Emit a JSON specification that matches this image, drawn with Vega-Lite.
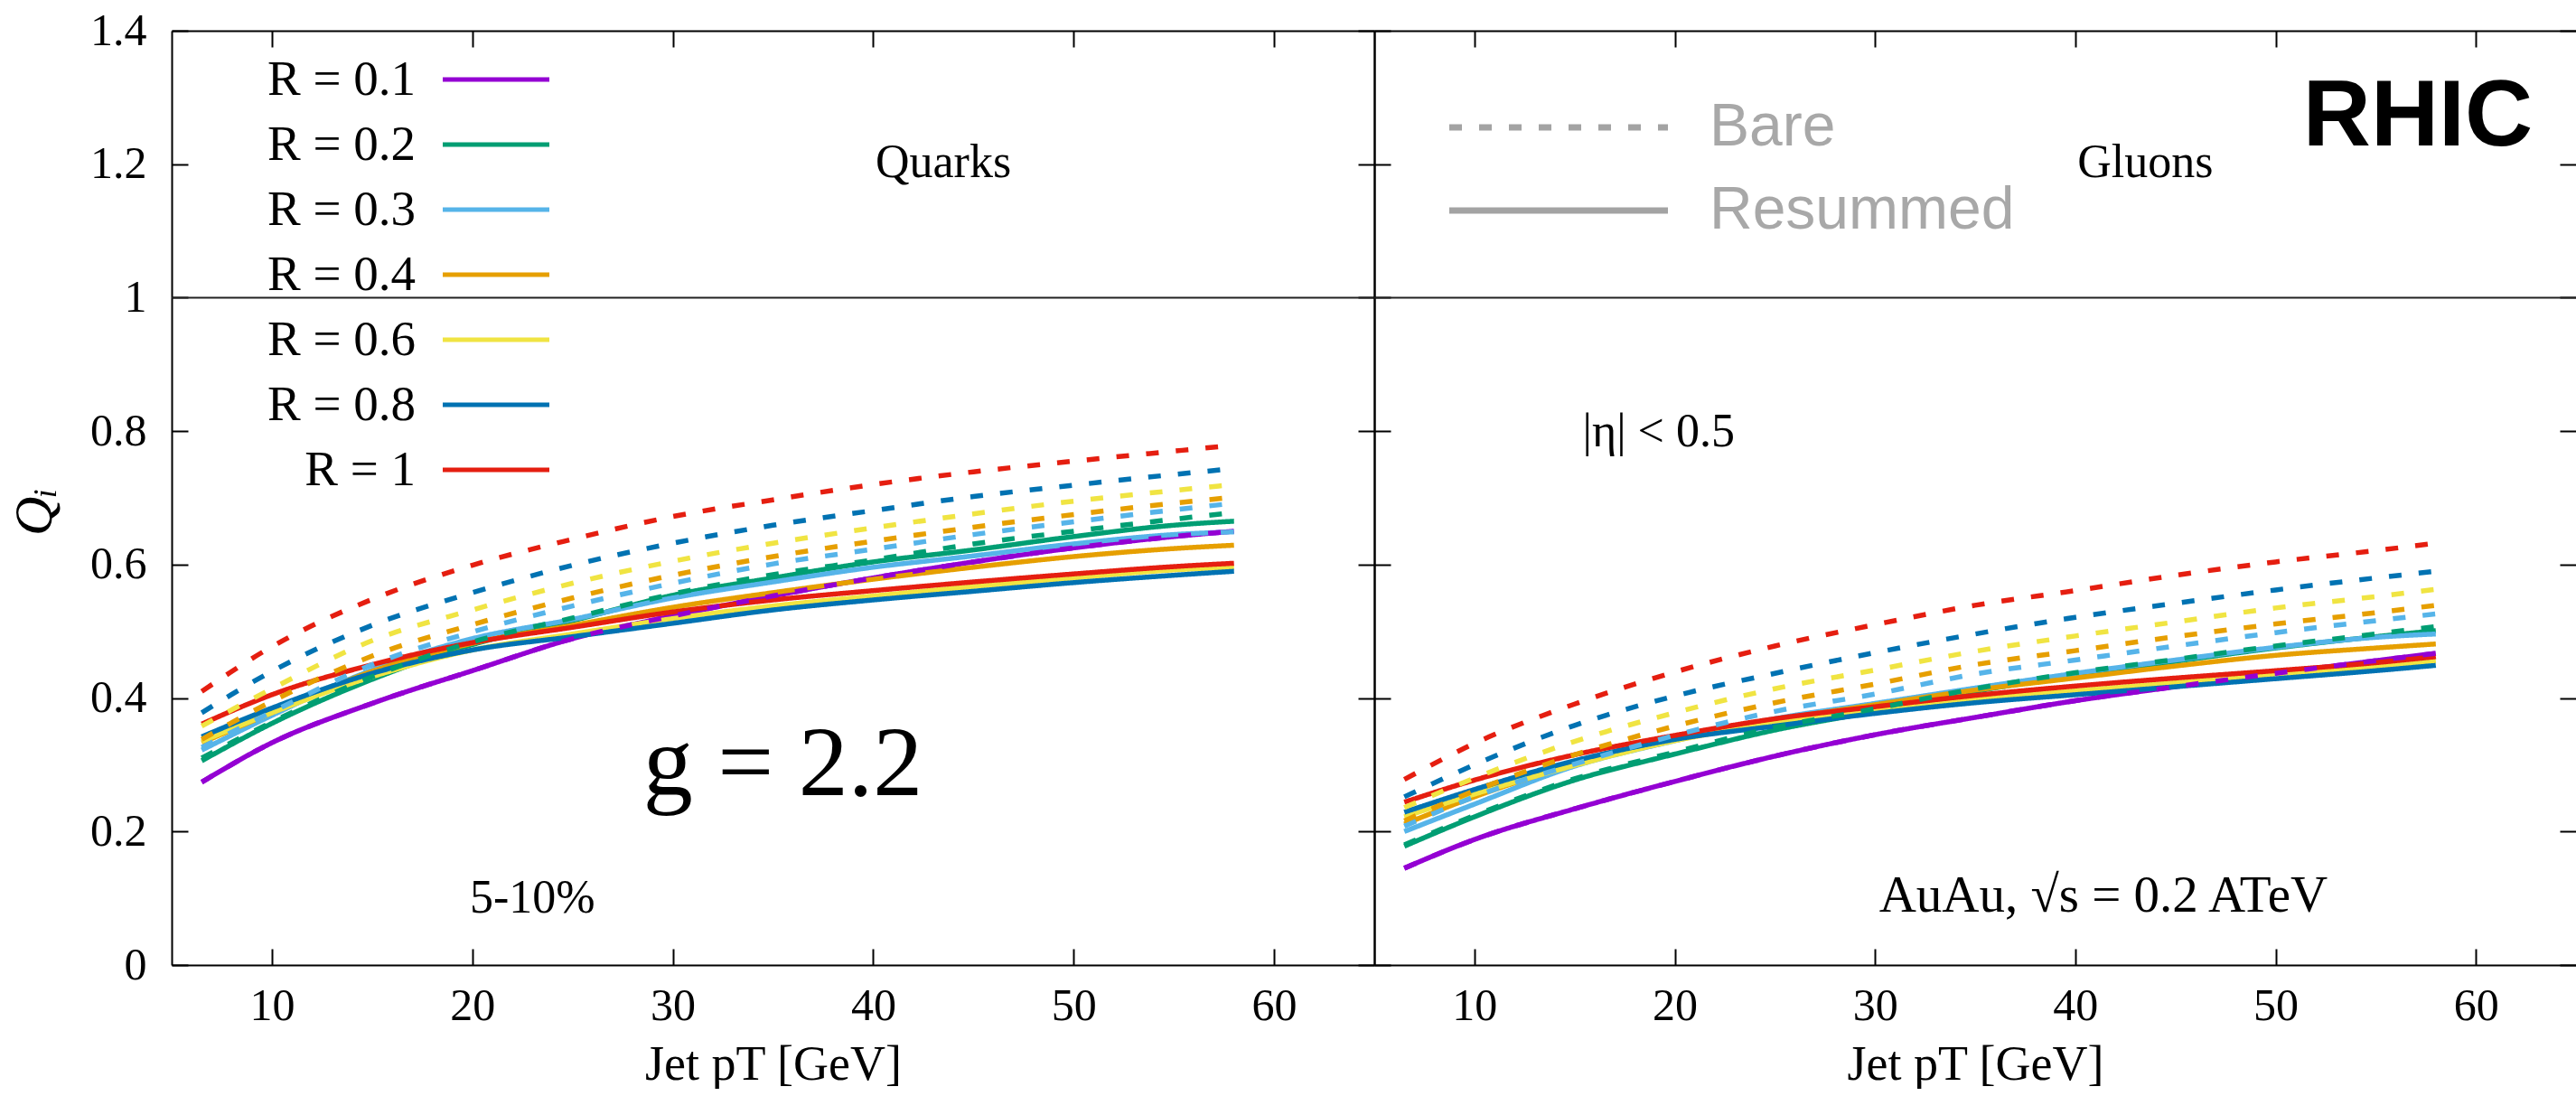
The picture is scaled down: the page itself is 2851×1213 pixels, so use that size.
{
"$schema": "https://vega.github.io/schema/vega-lite/v6.json",
"autosize": {"type": "pad"},
"padding": {"left": 8, "top": 9, "right": 0, "bottom": 0},
"background": "white",
"spacing": 0,
"bounds": "flush",
"config": {"view": {"stroke": null}, "font": "Liberation Serif"},
"resolve": {"scale": {"x": "independent", "y": "independent", "color": "independent", "strokeDash": "independent"}},
"datasets": {
"quarks": [
{"R":"0.1","t":"Resummed","x":6.5,"y":0.274},{"R":"0.1","t":"Resummed","x":10,"y":0.333},{"R":"0.1","t":"Resummed","x":15,"y":0.392},{"R":"0.1","t":"Resummed","x":20,"y":0.441},{"R":"0.1","t":"Resummed","x":25,"y":0.489},{"R":"0.1","t":"Resummed","x":30,"y":0.523},{"R":"0.1","t":"Resummed","x":35,"y":0.553},{"R":"0.1","t":"Resummed","x":40,"y":0.580},{"R":"0.1","t":"Resummed","x":45,"y":0.604},{"R":"0.1","t":"Resummed","x":50,"y":0.625},{"R":"0.1","t":"Resummed","x":55,"y":0.642},{"R":"0.1","t":"Resummed","x":58,"y":0.650},
{"R":"0.2","t":"Resummed","x":6.5,"y":0.306},{"R":"0.2","t":"Resummed","x":10,"y":0.362},{"R":"0.2","t":"Resummed","x":15,"y":0.428},{"R":"0.2","t":"Resummed","x":20,"y":0.480},{"R":"0.2","t":"Resummed","x":25,"y":0.516},{"R":"0.2","t":"Resummed","x":30,"y":0.554},{"R":"0.2","t":"Resummed","x":35,"y":0.580},{"R":"0.2","t":"Resummed","x":40,"y":0.604},{"R":"0.2","t":"Resummed","x":45,"y":0.622},{"R":"0.2","t":"Resummed","x":50,"y":0.642},{"R":"0.2","t":"Resummed","x":55,"y":0.659},{"R":"0.2","t":"Resummed","x":58,"y":0.665},
{"R":"0.3","t":"Resummed","x":6.5,"y":0.322},{"R":"0.3","t":"Resummed","x":10,"y":0.374},{"R":"0.3","t":"Resummed","x":15,"y":0.442},{"R":"0.3","t":"Resummed","x":20,"y":0.489},{"R":"0.3","t":"Resummed","x":25,"y":0.518},{"R":"0.3","t":"Resummed","x":30,"y":0.550},{"R":"0.3","t":"Resummed","x":35,"y":0.574},{"R":"0.3","t":"Resummed","x":40,"y":0.596},{"R":"0.3","t":"Resummed","x":45,"y":0.613},{"R":"0.3","t":"Resummed","x":50,"y":0.631},{"R":"0.3","t":"Resummed","x":55,"y":0.645},{"R":"0.3","t":"Resummed","x":58,"y":0.649},
{"R":"0.4","t":"Resummed","x":6.5,"y":0.333},{"R":"0.4","t":"Resummed","x":10,"y":0.378},{"R":"0.4","t":"Resummed","x":15,"y":0.440},{"R":"0.4","t":"Resummed","x":20,"y":0.482},{"R":"0.4","t":"Resummed","x":25,"y":0.509},{"R":"0.4","t":"Resummed","x":30,"y":0.536},{"R":"0.4","t":"Resummed","x":35,"y":0.558},{"R":"0.4","t":"Resummed","x":40,"y":0.578},{"R":"0.4","t":"Resummed","x":45,"y":0.596},{"R":"0.4","t":"Resummed","x":50,"y":0.612},{"R":"0.4","t":"Resummed","x":55,"y":0.624},{"R":"0.4","t":"Resummed","x":58,"y":0.629},
{"R":"0.6","t":"Resummed","x":6.5,"y":0.335},{"R":"0.6","t":"Resummed","x":10,"y":0.378},{"R":"0.6","t":"Resummed","x":15,"y":0.432},{"R":"0.6","t":"Resummed","x":20,"y":0.472},{"R":"0.6","t":"Resummed","x":25,"y":0.496},{"R":"0.6","t":"Resummed","x":30,"y":0.519},{"R":"0.6","t":"Resummed","x":35,"y":0.538},{"R":"0.6","t":"Resummed","x":40,"y":0.553},{"R":"0.6","t":"Resummed","x":45,"y":0.567},{"R":"0.6","t":"Resummed","x":50,"y":0.580},{"R":"0.6","t":"Resummed","x":55,"y":0.592},{"R":"0.6","t":"Resummed","x":58,"y":0.596},
{"R":"0.8","t":"Resummed","x":6.5,"y":0.342},{"R":"0.8","t":"Resummed","x":10,"y":0.385},{"R":"0.8","t":"Resummed","x":15,"y":0.437},{"R":"0.8","t":"Resummed","x":20,"y":0.472},{"R":"0.8","t":"Resummed","x":25,"y":0.492},{"R":"0.8","t":"Resummed","x":30,"y":0.512},{"R":"0.8","t":"Resummed","x":35,"y":0.532},{"R":"0.8","t":"Resummed","x":40,"y":0.547},{"R":"0.8","t":"Resummed","x":45,"y":0.560},{"R":"0.8","t":"Resummed","x":50,"y":0.573},{"R":"0.8","t":"Resummed","x":55,"y":0.584},{"R":"0.8","t":"Resummed","x":58,"y":0.590},
{"R":"1","t":"Resummed","x":6.5,"y":0.361},{"R":"1","t":"Resummed","x":10,"y":0.405},{"R":"1","t":"Resummed","x":15,"y":0.450},{"R":"1","t":"Resummed","x":20,"y":0.483},{"R":"1","t":"Resummed","x":25,"y":0.506},{"R":"1","t":"Resummed","x":30,"y":0.529},{"R":"1","t":"Resummed","x":35,"y":0.547},{"R":"1","t":"Resummed","x":40,"y":0.561},{"R":"1","t":"Resummed","x":45,"y":0.574},{"R":"1","t":"Resummed","x":50,"y":0.586},{"R":"1","t":"Resummed","x":55,"y":0.597},{"R":"1","t":"Resummed","x":58,"y":0.602},
{"R":"0.1","t":"Bare","x":6.5,"y":0.274},{"R":"0.1","t":"Bare","x":10,"y":0.333},{"R":"0.1","t":"Bare","x":15,"y":0.392},{"R":"0.1","t":"Bare","x":20,"y":0.441},{"R":"0.1","t":"Bare","x":25,"y":0.489},{"R":"0.1","t":"Bare","x":30,"y":0.523},{"R":"0.1","t":"Bare","x":35,"y":0.553},{"R":"0.1","t":"Bare","x":40,"y":0.580},{"R":"0.1","t":"Bare","x":45,"y":0.604},{"R":"0.1","t":"Bare","x":50,"y":0.625},{"R":"0.1","t":"Bare","x":55,"y":0.642},{"R":"0.1","t":"Bare","x":58,"y":0.650},
{"R":"0.2","t":"Bare","x":6.5,"y":0.310},{"R":"0.2","t":"Bare","x":10,"y":0.364},{"R":"0.2","t":"Bare","x":15,"y":0.432},{"R":"0.2","t":"Bare","x":20,"y":0.484},{"R":"0.2","t":"Bare","x":25,"y":0.520},{"R":"0.2","t":"Bare","x":30,"y":0.556},{"R":"0.2","t":"Bare","x":35,"y":0.585},{"R":"0.2","t":"Bare","x":40,"y":0.607},{"R":"0.2","t":"Bare","x":45,"y":0.631},{"R":"0.2","t":"Bare","x":50,"y":0.650},{"R":"0.2","t":"Bare","x":55,"y":0.668},{"R":"0.2","t":"Bare","x":58,"y":0.678},
{"R":"0.3","t":"Bare","x":6.5,"y":0.326},{"R":"0.3","t":"Bare","x":10,"y":0.379},{"R":"0.3","t":"Bare","x":15,"y":0.450},{"R":"0.3","t":"Bare","x":20,"y":0.499},{"R":"0.3","t":"Bare","x":25,"y":0.538},{"R":"0.3","t":"Bare","x":30,"y":0.572},{"R":"0.3","t":"Bare","x":35,"y":0.601},{"R":"0.3","t":"Bare","x":40,"y":0.623},{"R":"0.3","t":"Bare","x":45,"y":0.645},{"R":"0.3","t":"Bare","x":50,"y":0.664},{"R":"0.3","t":"Bare","x":55,"y":0.682},{"R":"0.3","t":"Bare","x":58,"y":0.692},
{"R":"0.4","t":"Bare","x":6.5,"y":0.338},{"R":"0.4","t":"Bare","x":10,"y":0.395},{"R":"0.4","t":"Bare","x":15,"y":0.463},{"R":"0.4","t":"Bare","x":20,"y":0.510},{"R":"0.4","t":"Bare","x":25,"y":0.550},{"R":"0.4","t":"Bare","x":30,"y":0.584},{"R":"0.4","t":"Bare","x":35,"y":0.612},{"R":"0.4","t":"Bare","x":40,"y":0.635},{"R":"0.4","t":"Bare","x":45,"y":0.656},{"R":"0.4","t":"Bare","x":50,"y":0.675},{"R":"0.4","t":"Bare","x":55,"y":0.692},{"R":"0.4","t":"Bare","x":58,"y":0.701},
{"R":"0.6","t":"Bare","x":6.5,"y":0.358},{"R":"0.6","t":"Bare","x":10,"y":0.414},{"R":"0.6","t":"Bare","x":15,"y":0.486},{"R":"0.6","t":"Bare","x":20,"y":0.532},{"R":"0.6","t":"Bare","x":25,"y":0.572},{"R":"0.6","t":"Bare","x":30,"y":0.605},{"R":"0.6","t":"Bare","x":35,"y":0.632},{"R":"0.6","t":"Bare","x":40,"y":0.655},{"R":"0.6","t":"Bare","x":45,"y":0.676},{"R":"0.6","t":"Bare","x":50,"y":0.695},{"R":"0.6","t":"Bare","x":55,"y":0.711},{"R":"0.6","t":"Bare","x":58,"y":0.720},
{"R":"0.8","t":"Bare","x":6.5,"y":0.378},{"R":"0.8","t":"Bare","x":10,"y":0.440},{"R":"0.8","t":"Bare","x":15,"y":0.509},{"R":"0.8","t":"Bare","x":20,"y":0.558},{"R":"0.8","t":"Bare","x":25,"y":0.599},{"R":"0.8","t":"Bare","x":30,"y":0.632},{"R":"0.8","t":"Bare","x":35,"y":0.659},{"R":"0.8","t":"Bare","x":40,"y":0.681},{"R":"0.8","t":"Bare","x":45,"y":0.702},{"R":"0.8","t":"Bare","x":50,"y":0.719},{"R":"0.8","t":"Bare","x":55,"y":0.735},{"R":"0.8","t":"Bare","x":58,"y":0.744},
{"R":"1","t":"Bare","x":6.5,"y":0.410},{"R":"1","t":"Bare","x":10,"y":0.477},{"R":"1","t":"Bare","x":15,"y":0.548},{"R":"1","t":"Bare","x":20,"y":0.599},{"R":"1","t":"Bare","x":25,"y":0.638},{"R":"1","t":"Bare","x":30,"y":0.672},{"R":"1","t":"Bare","x":35,"y":0.697},{"R":"1","t":"Bare","x":40,"y":0.720},{"R":"1","t":"Bare","x":45,"y":0.739},{"R":"1","t":"Bare","x":50,"y":0.755},{"R":"1","t":"Bare","x":55,"y":0.770},{"R":"1","t":"Bare","x":58,"y":0.779}
],
"gluons": [
{"R":"0.1","t":"Resummed","x":6.5,"y":0.145},{"R":"0.1","t":"Resummed","x":10,"y":0.188},{"R":"0.1","t":"Resummed","x":15,"y":0.234},{"R":"0.1","t":"Resummed","x":20,"y":0.275},{"R":"0.1","t":"Resummed","x":25,"y":0.313},{"R":"0.1","t":"Resummed","x":30,"y":0.345},{"R":"0.1","t":"Resummed","x":35,"y":0.371},{"R":"0.1","t":"Resummed","x":40,"y":0.396},{"R":"0.1","t":"Resummed","x":45,"y":0.417},{"R":"0.1","t":"Resummed","x":50,"y":0.437},{"R":"0.1","t":"Resummed","x":55,"y":0.456},{"R":"0.1","t":"Resummed","x":58,"y":0.467},
{"R":"0.2","t":"Resummed","x":6.5,"y":0.178},{"R":"0.2","t":"Resummed","x":10,"y":0.222},{"R":"0.2","t":"Resummed","x":15,"y":0.277},{"R":"0.2","t":"Resummed","x":20,"y":0.316},{"R":"0.2","t":"Resummed","x":25,"y":0.352},{"R":"0.2","t":"Resummed","x":30,"y":0.380},{"R":"0.2","t":"Resummed","x":35,"y":0.410},{"R":"0.2","t":"Resummed","x":40,"y":0.434},{"R":"0.2","t":"Resummed","x":45,"y":0.455},{"R":"0.2","t":"Resummed","x":50,"y":0.475},{"R":"0.2","t":"Resummed","x":55,"y":0.492},{"R":"0.2","t":"Resummed","x":58,"y":0.501},
{"R":"0.3","t":"Resummed","x":6.5,"y":0.200},{"R":"0.3","t":"Resummed","x":10,"y":0.241},{"R":"0.3","t":"Resummed","x":15,"y":0.298},{"R":"0.3","t":"Resummed","x":20,"y":0.336},{"R":"0.3","t":"Resummed","x":25,"y":0.369},{"R":"0.3","t":"Resummed","x":30,"y":0.392},{"R":"0.3","t":"Resummed","x":35,"y":0.415},{"R":"0.3","t":"Resummed","x":40,"y":0.437},{"R":"0.3","t":"Resummed","x":45,"y":0.457},{"R":"0.3","t":"Resummed","x":50,"y":0.476},{"R":"0.3","t":"Resummed","x":55,"y":0.491},{"R":"0.3","t":"Resummed","x":58,"y":0.496},
{"R":"0.4","t":"Resummed","x":6.5,"y":0.211},{"R":"0.4","t":"Resummed","x":10,"y":0.252},{"R":"0.4","t":"Resummed","x":15,"y":0.301},{"R":"0.4","t":"Resummed","x":20,"y":0.340},{"R":"0.4","t":"Resummed","x":25,"y":0.367},{"R":"0.4","t":"Resummed","x":30,"y":0.390},{"R":"0.4","t":"Resummed","x":35,"y":0.412},{"R":"0.4","t":"Resummed","x":40,"y":0.430},{"R":"0.4","t":"Resummed","x":45,"y":0.448},{"R":"0.4","t":"Resummed","x":50,"y":0.464},{"R":"0.4","t":"Resummed","x":55,"y":0.475},{"R":"0.4","t":"Resummed","x":58,"y":0.481},
{"R":"0.6","t":"Resummed","x":6.5,"y":0.222},{"R":"0.6","t":"Resummed","x":10,"y":0.256},{"R":"0.6","t":"Resummed","x":15,"y":0.299},{"R":"0.6","t":"Resummed","x":20,"y":0.336},{"R":"0.6","t":"Resummed","x":25,"y":0.362},{"R":"0.6","t":"Resummed","x":30,"y":0.381},{"R":"0.6","t":"Resummed","x":35,"y":0.399},{"R":"0.6","t":"Resummed","x":40,"y":0.411},{"R":"0.6","t":"Resummed","x":45,"y":0.423},{"R":"0.6","t":"Resummed","x":50,"y":0.436},{"R":"0.6","t":"Resummed","x":55,"y":0.447},{"R":"0.6","t":"Resummed","x":58,"y":0.456},
{"R":"0.8","t":"Resummed","x":6.5,"y":0.229},{"R":"0.8","t":"Resummed","x":10,"y":0.263},{"R":"0.8","t":"Resummed","x":15,"y":0.306},{"R":"0.8","t":"Resummed","x":20,"y":0.338},{"R":"0.8","t":"Resummed","x":25,"y":0.358},{"R":"0.8","t":"Resummed","x":30,"y":0.377},{"R":"0.8","t":"Resummed","x":35,"y":0.393},{"R":"0.8","t":"Resummed","x":40,"y":0.405},{"R":"0.8","t":"Resummed","x":45,"y":0.417},{"R":"0.8","t":"Resummed","x":50,"y":0.429},{"R":"0.8","t":"Resummed","x":55,"y":0.441},{"R":"0.8","t":"Resummed","x":58,"y":0.449},
{"R":"1","t":"Resummed","x":6.5,"y":0.244},{"R":"1","t":"Resummed","x":10,"y":0.277},{"R":"1","t":"Resummed","x":15,"y":0.315},{"R":"1","t":"Resummed","x":20,"y":0.344},{"R":"1","t":"Resummed","x":25,"y":0.369},{"R":"1","t":"Resummed","x":30,"y":0.387},{"R":"1","t":"Resummed","x":35,"y":0.404},{"R":"1","t":"Resummed","x":40,"y":0.418},{"R":"1","t":"Resummed","x":45,"y":0.430},{"R":"1","t":"Resummed","x":50,"y":0.441},{"R":"1","t":"Resummed","x":55,"y":0.453},{"R":"1","t":"Resummed","x":58,"y":0.462},
{"R":"0.1","t":"Bare","x":6.5,"y":0.145},{"R":"0.1","t":"Bare","x":10,"y":0.188},{"R":"0.1","t":"Bare","x":15,"y":0.234},{"R":"0.1","t":"Bare","x":20,"y":0.275},{"R":"0.1","t":"Bare","x":25,"y":0.313},{"R":"0.1","t":"Bare","x":30,"y":0.345},{"R":"0.1","t":"Bare","x":35,"y":0.371},{"R":"0.1","t":"Bare","x":40,"y":0.396},{"R":"0.1","t":"Bare","x":45,"y":0.417},{"R":"0.1","t":"Bare","x":50,"y":0.437},{"R":"0.1","t":"Bare","x":55,"y":0.456},{"R":"0.1","t":"Bare","x":58,"y":0.467},
{"R":"0.2","t":"Bare","x":6.5,"y":0.180},{"R":"0.2","t":"Bare","x":10,"y":0.224},{"R":"0.2","t":"Bare","x":15,"y":0.279},{"R":"0.2","t":"Bare","x":20,"y":0.319},{"R":"0.2","t":"Bare","x":25,"y":0.356},{"R":"0.2","t":"Bare","x":30,"y":0.384},{"R":"0.2","t":"Bare","x":35,"y":0.414},{"R":"0.2","t":"Bare","x":40,"y":0.438},{"R":"0.2","t":"Bare","x":45,"y":0.458},{"R":"0.2","t":"Bare","x":50,"y":0.478},{"R":"0.2","t":"Bare","x":55,"y":0.496},{"R":"0.2","t":"Bare","x":58,"y":0.507},
{"R":"0.3","t":"Bare","x":6.5,"y":0.208},{"R":"0.3","t":"Bare","x":10,"y":0.252},{"R":"0.3","t":"Bare","x":15,"y":0.301},{"R":"0.3","t":"Bare","x":20,"y":0.344},{"R":"0.3","t":"Bare","x":25,"y":0.380},{"R":"0.3","t":"Bare","x":30,"y":0.406},{"R":"0.3","t":"Bare","x":35,"y":0.436},{"R":"0.3","t":"Bare","x":40,"y":0.457},{"R":"0.3","t":"Bare","x":45,"y":0.478},{"R":"0.3","t":"Bare","x":50,"y":0.498},{"R":"0.3","t":"Bare","x":55,"y":0.516},{"R":"0.3","t":"Bare","x":58,"y":0.526},
{"R":"0.4","t":"Bare","x":6.5,"y":0.216},{"R":"0.4","t":"Bare","x":10,"y":0.261},{"R":"0.4","t":"Bare","x":15,"y":0.315},{"R":"0.4","t":"Bare","x":20,"y":0.358},{"R":"0.4","t":"Bare","x":25,"y":0.393},{"R":"0.4","t":"Bare","x":30,"y":0.421},{"R":"0.4","t":"Bare","x":35,"y":0.450},{"R":"0.4","t":"Bare","x":40,"y":0.471},{"R":"0.4","t":"Bare","x":45,"y":0.492},{"R":"0.4","t":"Bare","x":50,"y":0.511},{"R":"0.4","t":"Bare","x":55,"y":0.528},{"R":"0.4","t":"Bare","x":58,"y":0.539},
{"R":"0.6","t":"Bare","x":6.5,"y":0.236},{"R":"0.6","t":"Bare","x":10,"y":0.280},{"R":"0.6","t":"Bare","x":15,"y":0.335},{"R":"0.6","t":"Bare","x":20,"y":0.378},{"R":"0.6","t":"Bare","x":25,"y":0.414},{"R":"0.6","t":"Bare","x":30,"y":0.442},{"R":"0.6","t":"Bare","x":35,"y":0.470},{"R":"0.6","t":"Bare","x":40,"y":0.493},{"R":"0.6","t":"Bare","x":45,"y":0.514},{"R":"0.6","t":"Bare","x":50,"y":0.535},{"R":"0.6","t":"Bare","x":55,"y":0.552},{"R":"0.6","t":"Bare","x":58,"y":0.563},
{"R":"0.8","t":"Bare","x":6.5,"y":0.252},{"R":"0.8","t":"Bare","x":10,"y":0.300},{"R":"0.8","t":"Bare","x":15,"y":0.359},{"R":"0.8","t":"Bare","x":20,"y":0.403},{"R":"0.8","t":"Bare","x":25,"y":0.437},{"R":"0.8","t":"Bare","x":30,"y":0.468},{"R":"0.8","t":"Bare","x":35,"y":0.496},{"R":"0.8","t":"Bare","x":40,"y":0.521},{"R":"0.8","t":"Bare","x":45,"y":0.542},{"R":"0.8","t":"Bare","x":50,"y":0.562},{"R":"0.8","t":"Bare","x":55,"y":0.580},{"R":"0.8","t":"Bare","x":58,"y":0.590},
{"R":"1","t":"Bare","x":6.5,"y":0.278},{"R":"1","t":"Bare","x":10,"y":0.332},{"R":"1","t":"Bare","x":15,"y":0.391},{"R":"1","t":"Bare","x":20,"y":0.439},{"R":"1","t":"Bare","x":25,"y":0.478},{"R":"1","t":"Bare","x":30,"y":0.510},{"R":"1","t":"Bare","x":35,"y":0.539},{"R":"1","t":"Bare","x":40,"y":0.561},{"R":"1","t":"Bare","x":45,"y":0.584},{"R":"1","t":"Bare","x":50,"y":0.604},{"R":"1","t":"Bare","x":55,"y":0.621},{"R":"1","t":"Bare","x":58,"y":0.632}
]
},
"hconcat": [
{
"width": 1331, "height": 1034,
"data": {"name": "quarks"},
"resolve": {"axis": {"x": "independent", "y": "independent"}},
"layer": [
{"transform": [{"filter": "datum.t == 'Resummed'"}],
 "mark": {"type": "line", "strokeWidth": 5.5, "interpolate": "monotone"},
 "encoding": {
  "x": {"field": "x", "type": "quantitative", "scale": {"domain": [5, 65], "nice": false, "zero": false},
   "axis": {"orient": "bottom", "values": [10, 20, 30, 40, 50, 60], "title": "Jet pT [GeV]", "grid": false, "domain": true, "domainColor": "black", "domainWidth": 2, "ticks": true, "tickSize": -18, "tickColor": "black", "tickWidth": 2, "labelFont": "Liberation Serif", "labelFontSize": 50, "labelColor": "black", "labelBaseline": "alphabetic", "labelPadding": 78, "labelFlush": false, "labelOverlap": false, "titleFont": "Liberation Serif", "titleFontSize": 54, "titleFontWeight": "normal", "titleColor": "black", "titleBaseline": "alphabetic", "titleY": 126}},
  "y": {"field": "y", "type": "quantitative", "scale": {"domain": [0, 1.4], "nice": false, "zero": false},
   "axis": {"orient": "left", "values": [0, 0.2, 0.4, 0.6, 0.8, 1, 1.2, 1.4], "format": "~g", "title": "Qᵢ", "grid": false, "domain": true, "domainColor": "black", "domainWidth": 2, "ticks": true, "tickSize": -18, "tickColor": "black", "tickWidth": 2, "labelFont": "Liberation Serif", "labelFontSize": 50, "labelColor": "black", "labelPadding": 46, "labelFlush": false, "labelOverlap": false, "titleFont": "Liberation Serif", "titleFontSize": 60, "titleFontStyle": "italic", "titleFontWeight": "normal", "titleColor": "black", "titleAngle": -90, "titleX": -152, "titleY": 532, "titleBaseline": "middle", "titleAlign": "center"}},
  "color": {"field": "R", "type": "nominal", "scale": {"domain": ["0.1", "0.2", "0.3", "0.4", "0.6", "0.8", "1"], "range": ["#9400D3", "#009E73", "#56B4E9", "#E69F00", "#F0E442", "#0072B2", "#E51E10"]},
   "legend": {"orient": "none", "legendX": 331.5, "legendY": 26.5, "title": null, "padding": 0, "symbolType": "M-5,0H5", "symbolSize": 557, "symbolStrokeWidth": 5, "labelFont": "Liberation Serif", "labelFontSize": 55, "labelColor": "black", "labelAlign": "right", "labelOffset": -116.5, "labelLimit": 0, "labelExpr": "'R = ' + datum.label", "rowPadding": 16}},
  "strokeDash": {"field": "t", "type": "nominal", "scale": {"domain": ["Bare", "Resummed"], "range": [[14, 19], [1, 0]]}, "legend": null}
 }},
{"transform": [{"filter": "datum.t == 'Bare'"}],
 "mark": {"type": "line", "strokeWidth": 5.5, "interpolate": "monotone"},
 "encoding": {
  "x": {"field": "x", "type": "quantitative", "axis": {"orient": "top", "values": [10, 20, 30, 40, 50, 60], "labels": false, "title": null, "grid": false, "domain": true, "domainColor": "black", "domainWidth": 2, "tickSize": -18, "tickColor": "black", "tickWidth": 2}},
  "y": {"field": "y", "type": "quantitative", "axis": {"orient": "right", "values": [0, 0.2, 0.4, 0.6, 0.8, 1, 1.2, 1.4], "labels": false, "title": null, "grid": false, "domain": true, "domainColor": "black", "domainWidth": 2, "tickSize": -18, "tickColor": "black", "tickWidth": 2}},
  "color": {"field": "R", "type": "nominal"},
  "strokeDash": {"field": "t", "type": "nominal"}
 }},
{"data": {"values": [{"level": 1}]},
 "mark": {"type": "rule", "color": "#222222", "strokeWidth": 2},
 "encoding": {"y": {"field": "level", "type": "quantitative", "axis": null}}},
{"data": {"values": [{"label": "Quarks", "x": 43.5, "y": 1.18}, {"label": "5-10%", "x": 23, "y": 0.078}]},
 "mark": {"type": "text", "font": "Liberation Serif", "fontSize": 52, "align": "center", "baseline": "alphabetic", "color": "black"},
 "encoding": {"x": {"field": "x", "type": "quantitative", "axis": null}, "y": {"field": "y", "type": "quantitative", "axis": null}, "text": {"field": "label"}}},
{"data": {"values": [{"label": "g = 2.2", "x": 35.5, "y": 0.254}]},
 "mark": {"type": "text", "font": "Liberation Serif", "fontSize": 110, "align": "center", "baseline": "alphabetic", "color": "black"},
 "encoding": {"x": {"field": "x", "type": "quantitative", "axis": null}, "y": {"field": "y", "type": "quantitative", "axis": null}, "text": {"field": "label"}}}
]
},
{
"width": 1330, "height": 1034,
"data": {"name": "gluons"},
"resolve": {"axis": {"x": "independent", "y": "independent"}},
"layer": [
{"transform": [{"filter": "datum.t == 'Resummed'"}],
 "mark": {"type": "line", "strokeWidth": 5.5, "interpolate": "monotone"},
 "encoding": {
  "x": {"field": "x", "type": "quantitative", "scale": {"domain": [5, 65], "nice": false, "zero": false},
   "axis": {"orient": "bottom", "values": [10, 20, 30, 40, 50, 60], "title": "Jet pT [GeV]", "grid": false, "domain": true, "domainColor": "black", "domainWidth": 2, "ticks": true, "tickSize": -18, "tickColor": "black", "tickWidth": 2, "labelFont": "Liberation Serif", "labelFontSize": 50, "labelColor": "black", "labelBaseline": "alphabetic", "labelPadding": 78, "labelFlush": false, "labelOverlap": false, "titleFont": "Liberation Serif", "titleFontSize": 54, "titleFontWeight": "normal", "titleColor": "black", "titleBaseline": "alphabetic", "titleY": 126}},
  "y": {"field": "y", "type": "quantitative", "scale": {"domain": [0, 1.4], "nice": false, "zero": false},
   "axis": {"orient": "left", "values": [0, 0.2, 0.4, 0.6, 0.8, 1, 1.2, 1.4], "labels": false, "title": null, "grid": false, "domain": true, "domainColor": "black", "domainWidth": 2, "tickSize": -18, "tickColor": "black", "tickWidth": 2}},
  "color": {"field": "R", "type": "nominal", "scale": {"domain": ["0.1", "0.2", "0.3", "0.4", "0.6", "0.8", "1"], "range": ["#9400D3", "#009E73", "#56B4E9", "#E69F00", "#F0E442", "#0072B2", "#E51E10"]}, "legend": null},
  "strokeDash": {"field": "t", "type": "nominal", "scale": {"domain": ["Bare", "Resummed"], "range": [[14, 19], [1, 0]]},
   "legend": {"orient": "none", "legendX": 171, "legendY": 74, "title": null, "padding": 0, "symbolType": "M-5,0H5", "symbolSize": 2343, "symbolStrokeWidth": 7, "symbolStrokeColor": "#A3A3A3", "labelFont": "Liberation Sans", "labelFontSize": 66, "labelColor": "#A8A8A8", "labelOffset": 134, "labelLimit": 0, "rowPadding": 26}}
 }},
{"transform": [{"filter": "datum.t == 'Bare'"}],
 "mark": {"type": "line", "strokeWidth": 5.5, "interpolate": "monotone"},
 "encoding": {
  "x": {"field": "x", "type": "quantitative", "axis": {"orient": "top", "values": [10, 20, 30, 40, 50, 60], "labels": false, "title": null, "grid": false, "domain": true, "domainColor": "black", "domainWidth": 2, "tickSize": -18, "tickColor": "black", "tickWidth": 2}},
  "y": {"field": "y", "type": "quantitative", "axis": {"orient": "right", "values": [0, 0.2, 0.4, 0.6, 0.8, 1, 1.2, 1.4], "labels": false, "title": null, "grid": false, "domain": false, "tickSize": -18, "tickColor": "black", "tickWidth": 2}},
  "color": {"field": "R", "type": "nominal"},
  "strokeDash": {"field": "t", "type": "nominal"}
 }},
{"data": {"values": [{"level": 1}]},
 "mark": {"type": "rule", "color": "#222222", "strokeWidth": 2},
 "encoding": {"y": {"field": "level", "type": "quantitative", "axis": null}}},
{"data": {"values": [{"label": "Gluons", "x": 43.5, "y": 1.18}, {"label": "|η| < 0.5", "x": 19.2, "y": 0.777}]},
 "mark": {"type": "text", "font": "Liberation Serif", "fontSize": 52, "align": "center", "baseline": "alphabetic", "color": "black"},
 "encoding": {"x": {"field": "x", "type": "quantitative", "axis": null}, "y": {"field": "y", "type": "quantitative", "axis": null}, "text": {"field": "label"}}},
{"data": {"values": [{"label": "AuAu, √s = 0.2 ATeV", "x": 41.4, "y": 0.08}]},
 "mark": {"type": "text", "font": "Liberation Serif", "fontSize": 57, "align": "center", "baseline": "alphabetic", "color": "black"},
 "encoding": {"x": {"field": "x", "type": "quantitative", "axis": null}, "y": {"field": "y", "type": "quantitative", "axis": null}, "text": {"field": "label"}}},
{"data": {"values": [{"label": "RHIC", "x": 57.1, "y": 1.228}]},
 "mark": {"type": "text", "font": "Liberation Sans", "fontSize": 104, "fontWeight": "bold", "align": "center", "baseline": "alphabetic", "color": "black"},
 "encoding": {"x": {"field": "x", "type": "quantitative", "axis": null}, "y": {"field": "y", "type": "quantitative", "axis": null}, "text": {"field": "label"}}}
]
}
]
}
